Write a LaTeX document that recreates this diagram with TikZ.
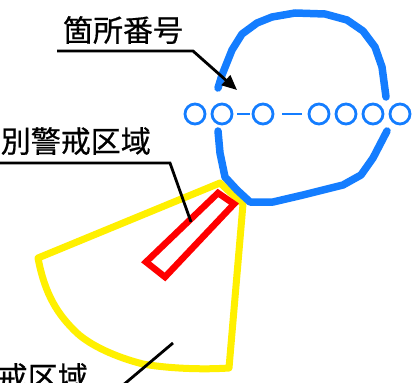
\documentclass[tikz,border=0pt]{standalone}
\usepackage{fontspec}
\newfontfamily\cjk[FakeBold=0.6]{Noto Sans CJK JP}
\usetikzlibrary{arrows.meta}
\definecolor{loopblue}{RGB}{20,125,255}
\definecolor{zoneyellow}{RGB}{255,240,0}
\definecolor{zonered}{RGB}{255,0,0}
\tikzset{
  bluestroke/.style={draw=loopblue,line width=7.5pt,line join=round,line cap=round},
  ystroke/.style={draw=zoneyellow,line width=7pt,line join=round},
  rstroke/.style={draw=zonered,line width=6.5pt,line join=miter},
  numcirc/.style={circle,draw=loopblue,line width=2.8pt,minimum size=20pt,inner sep=0pt},
  numdash/.style={draw=loopblue,line width=2.8pt},
  leader/.style={draw=black,line width=2.8pt,line join=miter},
  jlabel/.style={font=\cjk\fontsize{30}{30}\selectfont,inner sep=0pt,text=black},
}
\begin{document}
\begin{tikzpicture}[x=1pt,y=-1pt]
\useasboundingbox (0,0) rectangle (414,382);
\clip (0,0) rectangle (414,382);
\fill[white] (0,0) rectangle (414,382);
% yellow zone
\draw[ystroke] (220,183) -- (243,204) -- (229,368)
  .. controls (200,370) and (165,368) .. (143,364)
  .. controls (115,357) and (90,345) .. (77,333)
  .. controls (58,315) and (45,295) .. (38,258) -- cycle;
% red zone
\draw[rstroke] (218,193) -- (234,204) -- (165,277) -- (146,262) -- cycle;
% blue loop
\draw[bluestroke] (218,88) -- (222,75) -- (232,50) -- (242,34) -- (257,23) -- (272,17)
  -- (295,13) -- (325,14) -- (347,20) -- (363,31) -- (375,47) -- (382,67) -- (386,97);
\draw[bluestroke] (387,131) -- (373,158) -- (361,175) -- (343,185) -- (303,195)
  -- (273,202) -- (250,202) -- (237,190) -- (225,177) -- (220,153) -- (218,131);
% number circles
\node[numcirc] (c1) at (195,114) {};
\node[numcirc] (c2) at (222,114) {};
\node[numcirc] (c3) at (263,114) {};
\node[numcirc] (c4) at (319,114) {};
\node[numcirc] (c5) at (346,114) {};
\node[numcirc] (c6) at (373,114) {};
\node[numcirc] (c7) at (400,114) {};
\draw[numdash] (237,114) -- (250,114);
\draw[numdash] (282,114) -- (302,114);
% labels
\node[jlabel] (lblnum) at (123,30) {箇所番号};
\node[jlabel,anchor=east] (lblspecial) at (151,141) {別警戒区域};
\node[jlabel,anchor=east] (lblwarn) at (88,377) {戒区域};
% leaders
\coordinate (n1) at (57,51);
\coordinate (n2) at (193,51);
\coordinate (n3) at (237,90);
\draw[leader,-{Triangle[length=15pt,width=13pt]}] (n1) -- (n2) -- (n3);
\coordinate (s1) at (0,163);
\coordinate (s2) at (170,163);
\coordinate (s3) at (191,222);
\draw[leader] (s1) -- (s2) -- (s3);
\coordinate (w1) at (122,386);
\coordinate (w2) at (173,343);
\draw[leader] (w1) -- (w2);
\end{tikzpicture}
\end{document}
